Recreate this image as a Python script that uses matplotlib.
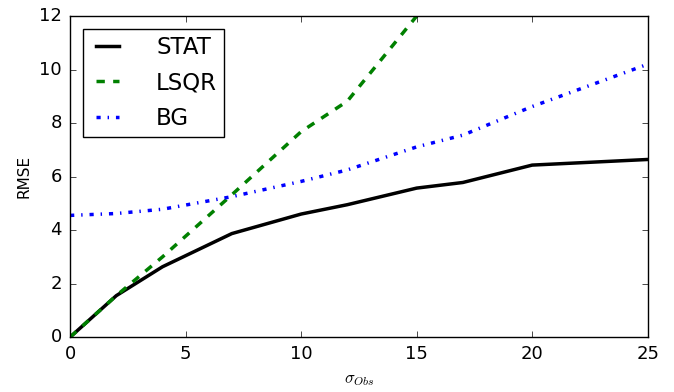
import matplotlib

matplotlib.use("Agg")
import matplotlib.pyplot as plt

# values
sigma_obs = [0, 2, 4, 7, 10, 12, 15, 17, 20, 25]
rmse_stat = [0, 1.55, 2.63, 3.87, 4.60, 4.95, 5.57, 5.78, 6.43, 6.64]
sigma_lsqr = [0, 2, 4, 7, 10, 12, 15]
rmse_lsqr = [0, 1.55, 3.0, 5.32, 7.68, 8.82, 12.0]
rmse_bg = [4.55, 4.62, 4.78, 5.25, 5.82, 6.25, 7.11, 7.55, 8.62, 10.2]

plt.style.use("classic")
plt.rcParams["font.family"] = ["DejaVu Sans"]
plt.rcParams["mathtext.fontset"] = "cm"

fig = plt.figure(figsize=(6.74, 3.92), dpi=100, facecolor="white")
ax = fig.add_axes([0.104, 0.140, 0.857, 0.819])

ax.plot(sigma_obs, rmse_stat, color="black", ls="-", lw=2.5, label="STAT")
ax.plot(sigma_lsqr, rmse_lsqr, color="green", ls="--", lw=2.5, label="LSQR")
ax.plot(sigma_obs, rmse_bg, color="blue", ls="-.", lw=2.5, label="BG")

ax.set_xlim(0, 25)
ax.set_ylim(0, 12)
ax.set_xticks([0, 5, 10, 15, 20, 25])
ax.set_yticks([0, 2, 4, 6, 8, 10, 12])
ax.tick_params(labelsize=13, direction="in", top=True, right=True, pad=6)
ax.set_xlabel(r"$\sigma_{Obs}$", fontsize=12, labelpad=5)
ax.set_ylabel("RMSE", fontsize=11)

leg = ax.legend(loc="upper left", fontsize=16.5, frameon=True, numpoints=2,
                handlelength=1.6, handletextpad=1.3, borderpad=0.3,
                labelspacing=0.55, borderaxespad=0.55)
leg.get_frame().set_edgecolor("black")

fig.savefig("out.png", dpi=100, facecolor="white")
